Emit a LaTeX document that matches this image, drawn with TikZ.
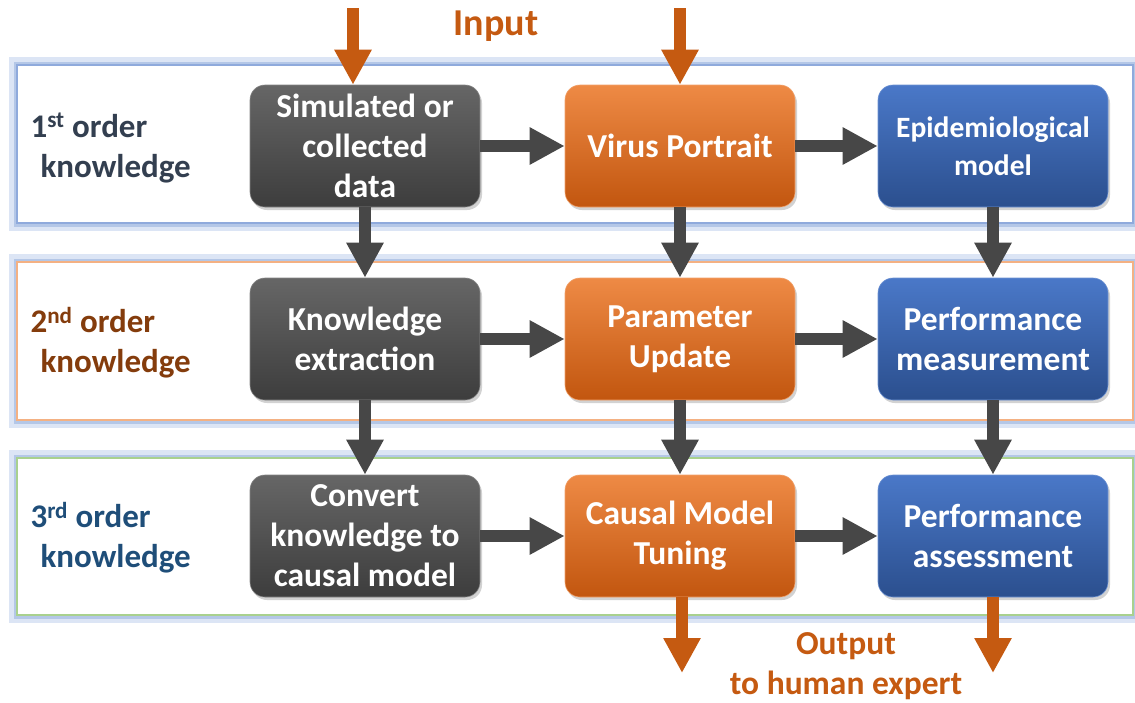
\documentclass[tikz,border=0pt]{standalone}
\usepackage{fontspec}
\setmainfont{Carlito}
\usetikzlibrary{arrows.meta,shadows}
\definecolor{garrow}{HTML}{474747}
\definecolor{oarrow}{HTML}{C55A11}
\definecolor{glowA}{HTML}{DCE5F5}
\definecolor{glowB}{HTML}{B4C7E7}
\definecolor{lineBlue}{HTML}{8FAADC}
\definecolor{lineOr}{HTML}{F4B183}
\definecolor{lineGr}{HTML}{A9D18E}
\definecolor{labA}{HTML}{333F50}
\definecolor{labB}{HTML}{843C0C}
\definecolor{labC}{HTML}{1F4E79}
\definecolor{grayT}{HTML}{666666}
\definecolor{grayB}{HTML}{3D3D3D}
\definecolor{orT}{HTML}{EE8A45}
\definecolor{orB}{HTML}{C2560F}
\definecolor{blT}{HTML}{4A78C8}
\definecolor{blB}{HTML}{2B4F8E}
\tikzset{
  box/.style={rounded corners=15pt, minimum width=230pt, minimum height=122pt,
    align=center, text=white, font=\bfseries\fontsize{33.5}{40}\selectfont,
    draw=white!40!black, line width=0.6pt,
    drop shadow={shadow xshift=2pt, shadow yshift=-3pt, opacity=.35}},
  graybox/.style={box, top color=grayT, bottom color=grayB, draw=grayT!80!white},
  orbox/.style={box, top color=orT, bottom color=orB, draw=orT!80!white},
  blbox/.style={box, top color=blT, bottom color=blB, draw=blT!80!white},
  garr/.style={line width=12pt, draw=garrow, -{Triangle[length=35pt,width=35pt]}},
  oarr/.style={line width=12pt, draw=oarrow, -{Triangle[length=35pt,width=35pt]}},
  lab/.style={align=left, anchor=west, font=\bfseries\fontsize{33}{40}\selectfont},
  otxt/.style={text=oarrow, font=\bfseries\fontsize{33.5}{40}\selectfont},
}
\newcommand{\panelglow}[3]{%
  \draw[glowA, line width=16pt] (#1) rectangle (#2);
  \draw[glowB, line width=7pt] (#1) rectangle (#2);
  \fill[white] (#1) rectangle (#2);
  \draw[#3, line width=1.5pt] (#1) rectangle (#2);
}
\begin{document}
\begin{tikzpicture}[x=1pt,y=-1pt]
\useasboundingbox (0,0) rectangle (1135,702);
\fill[white] (0,0) rectangle (1135,702);
% panels
\panelglow{17,65}{1133,223}{lineBlue}
\panelglow{17,262}{1133,420}{lineOr}
\panelglow{17,458}{1133,615}{lineGr}
% labels
\node[lab, text=labA] (l1) at (27,148) {1\textsuperscript{st} order\\\hspace*{10pt}knowledge};
\node[lab, text=labB] (l2) at (27,343) {2\textsuperscript{nd} order\\\hspace*{10pt}knowledge};
\node[lab, text=labC] (l3) at (27,538) {3\textsuperscript{rd} order\\\hspace*{10pt}knowledge};
% boxes
\node[graybox] (a1) at (365,146) {Simulated or\\collected\\data};
\node[orbox]   (b1) at (680,146) {Virus Portrait};
\node[blbox, font=\bfseries\fontsize{29.5}{38}\selectfont] (c1) at (993,146) {Epidemiological\\model};
\node[graybox] (a2) at (365,339) {Knowledge\\extraction};
\node[orbox]   (b2) at (680,339) {Parameter\\Update};
\node[blbox]   (c2) at (993,339) {Performance\\measurement};
\node[graybox] (a3) at (365,536) {Convert\\knowledge to\\causal model};
\node[orbox]   (b3) at (680,536) {Causal Model\\Tuning};
\node[blbox]   (c3) at (993,536) {Performance\\assessment};
% horizontal arrows
\foreach \r in {1,2,3}{
  \draw[garr] (a\r.east) -- (b\r.west);
  \draw[garr] (b\r.east) -- (c\r.west);
}
% vertical arrows
\draw[garr] (a1.south) -- (a2.north);
\draw[garr] (b1.south) -- (b2.north);
\draw[garr] (c1.south) -- (c2.north);
\draw[garr] (a2.south) -- (a3.north);
\draw[garr] (b2.south) -- (b3.north);
\draw[garr] (c2.south) -- (c3.north);
% input
\coordinate (in1) at (353,8);
\coordinate (in2) at (680,8);
\draw[oarr] (in1) -- (in1 |- a1.north);
\draw[oarr] (in2) -- (b1.north);
\node[otxt, font=\bfseries\fontsize{38}{40}\selectfont] (inp) at (496,26) {Input};
% output
\coordinate (out1) at (682,673);
\coordinate (out2) at (993,673);
\draw[oarr] (b3.south -| out1) -- (out1);
\draw[oarr] (c3.south) -- (out2);
\node[otxt, align=center] (outp) at (846,666) {Output\\to human expert};
\end{tikzpicture}
\end{document}
